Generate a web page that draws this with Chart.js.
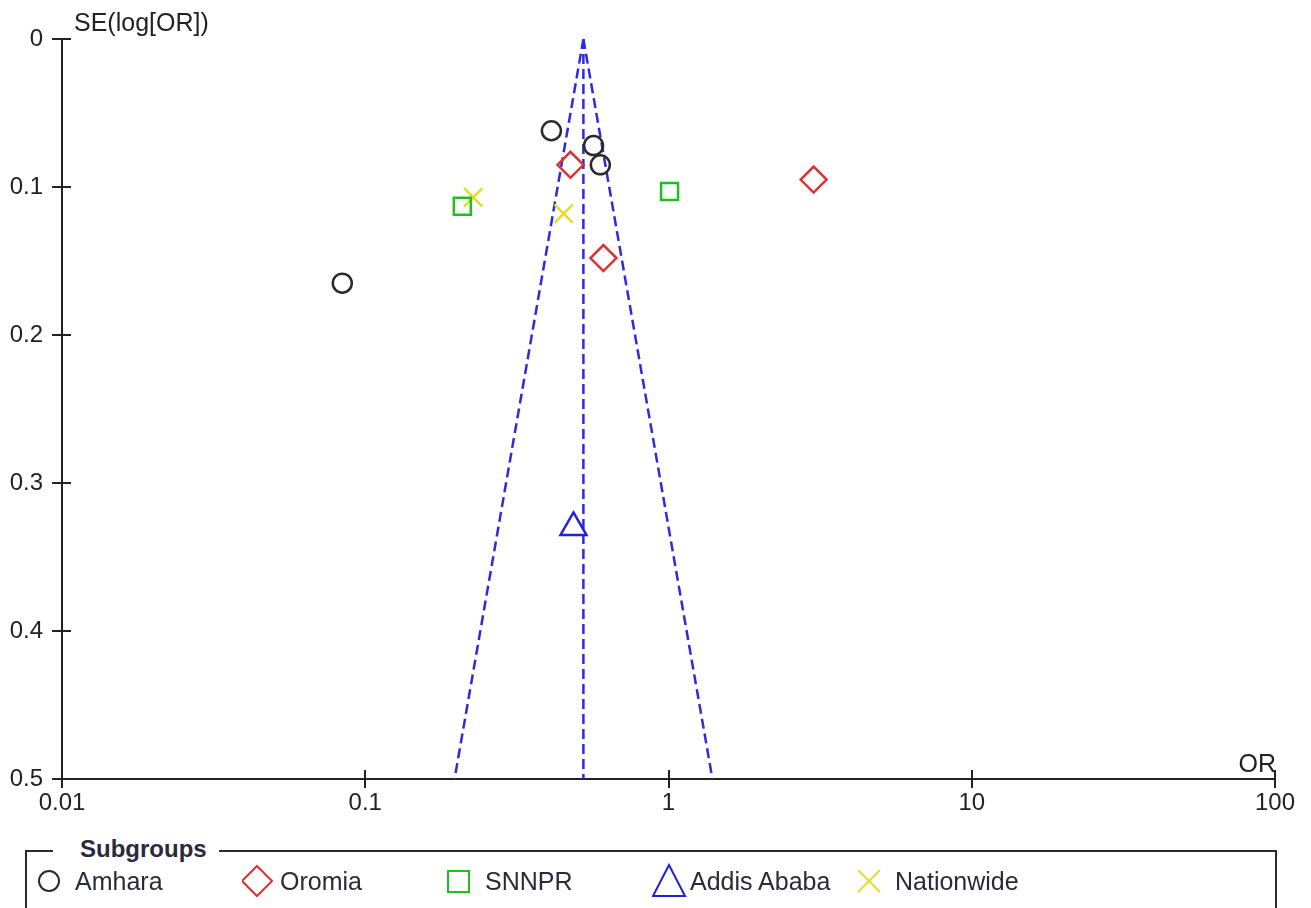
<!DOCTYPE html>
<html>
<head>
<meta charset="utf-8">
<script src="https://cdn.jsdelivr.net/npm/chart.js@4/dist/chart.umd.min.js"></script>
<style>
  html, body { margin: 0; padding: 0; background: #fff; }
  #wrap { position: relative; width: 1311px; height: 908px; overflow: hidden; }
  #funnel { position: absolute; left: 0; top: 0; }
  #legendBox {
    position: absolute; left: 25px; top: 850px; width: 1248px; height: 90px;
    border: 2px solid #2a2a2a; font-family: "Liberation Sans", Arial, sans-serif;
  }
  #legendTitle {
    position: absolute; left: 26px; top: -17px; line-height: 28px;
    background: #fff; padding: 0 12px 0 27px;
    font-weight: bold; font-size: 24px; color: #2a2a3a;
  }
  #legendItems { position: absolute; left: 10px; top: 11px; display: flex; }
  .item { width: 205px; height: 36px; display: flex; align-items: center; font-size: 25px; color: #2a2a3a; }
  .item svg { width: 38px; height: 36px; flex: none; }
</style>
</head>
<body>
<div id="wrap">
  <canvas id="funnel" width="1311" height="908"></canvas>
  <div id="legendBox">
    <span id="legendTitle">Subgroups</span>
    <div id="legendItems"></div>
  </div>
</div>
<script>
// Funnel plot: SE(log[OR]) against OR, log x axis
const xTicks = [0.01, 0.1, 1, 10, 100];
const xTickLabels = ['0.01', '0.1', '1', '10', '100'];
const yTicks = [0, 0.1, 0.2, 0.3, 0.4, 0.5];
const yTickLabels = ['0', '0.1', '0.2', '0.3', '0.4', '0.5'];

// studies per subgroup (OR, SE)
const amharaOR = [0.411, 0.566, 0.596, 0.084];
const amharaSE = [0.062, 0.072, 0.085, 0.165];
const oromiaOR = [0.475, 3.01, 0.61];
const oromiaSE = [0.085, 0.095, 0.148];
const snnprOR = [0.209, 1.008];
const snnprSE = [0.113, 0.103];
const addisOR = [0.486];
const addisSE = [0.33];
const nationOR = [0.227, 0.451];
const nationSE = [0.107, 0.118];

// pooled estimate and 95% limits read at SE = 0 and SE = 0.5
const funnelSE = [0, 0.5];
const funnelCenter = [0.524, 0.524];
const funnelLower = [0.524, 0.197];
const funnelUpper = [0.524, 1.396];

const axisColor = '#222';
const tickFont = { family: 'Liberation Sans', size: 24 };
const funnelBlue = '#2c2cdc';

const pts = (ors, ses) => ors.map((v, i) => ({ x: v, y: ses[i] }));

const subgroups = [
  { label: 'Amhara', or: amharaOR, se: amharaSE, style: 'circle', color: '#2b2b2b', radius: 9.5 },
  { label: 'Oromia', or: oromiaOR, se: oromiaSE, style: 'rectRot', color: '#dc3232', radius: 13 },
  { label: 'SNNPR', or: snnprOR, se: snnprSE, style: 'rect', color: '#1fbf1f', radius: 12 },
  { label: 'Addis Ababa', or: addisOR, se: addisSE, style: 'triangle', color: '#2121d4', radius: 15 },
  { label: 'Nationwide', or: nationOR, se: nationSE, style: 'crossRot', color: '#e2dc2a', radius: 13 }
];

const funnelLine = (label, ors, dash) => ({
  type: 'line',
  label: label,
  data: pts(ors, funnelSE),
  borderColor: funnelBlue,
  borderWidth: 2.5,
  borderDash: dash,
  pointRadius: 0,
  fill: false,
  order: 2
});

const axisExtras = {
  id: 'axisExtras',
  afterDraw(chart) {
    const { ctx, chartArea, scales } = chart;
    ctx.save();
    ctx.strokeStyle = axisColor;
    ctx.lineWidth = 2;
    // inner halves of the ticks (ticks cross the axes)
    scales.x.ticks.forEach(t => {
      const px = Math.round(scales.x.getPixelForValue(t.value));
      ctx.beginPath();
      ctx.moveTo(px, chartArea.bottom - 9);
      ctx.lineTo(px, chartArea.bottom);
      ctx.stroke();
    });
    scales.y.ticks.forEach(t => {
      const py = Math.round(scales.y.getPixelForValue(t.value));
      ctx.beginPath();
      ctx.moveTo(chartArea.left, py);
      ctx.lineTo(chartArea.left + 9, py);
      ctx.stroke();
    });
    // axis titles
    ctx.fillStyle = axisColor;
    ctx.font = '25px "Liberation Sans"';
    ctx.textBaseline = 'alphabetic';
    ctx.textAlign = 'left';
    ctx.fillText('SE(log[OR])', 74, 31);
    ctx.textAlign = 'right';
    ctx.fillText('OR', chartArea.right + 1, chartArea.bottom - 7);
    ctx.restore();
  }
};

const chart = new Chart(document.getElementById('funnel'), {
  type: 'scatter',
  data: {
    datasets: [
      funnelLine('centre', funnelCenter, [10, 5]),
      funnelLine('lower', funnelLower, [10, 5]),
      funnelLine('upper', funnelUpper, [10, 5]),
      ...subgroups.map(g => ({
        label: g.label,
        data: pts(g.or, g.se),
        pointStyle: g.style,
        pointRadius: g.radius,
        pointBorderColor: g.color,
        pointBackgroundColor: 'rgba(0,0,0,0)',
        pointBorderWidth: 2.5,
        order: 1
      }))
    ]
  },
  options: {
    responsive: false,
    animation: false,
    events: [],
    layout: { padding: { top: 39, right: 36, left: 0, bottom: 0 } },
    plugins: { legend: { display: false }, tooltip: { enabled: false } },
    scales: {
      x: {
        type: 'logarithmic',
        min: 0.01,
        max: 100,
        afterFit: s => { s.height = 908 - 779; },
        afterBuildTicks: s => { s.ticks = xTicks.map(v => ({ value: v })); },
        ticks: {
          color: axisColor,
          font: tickFont,
          padding: 1,
          maxRotation: 0,
          autoSkip: false,
          callback: (v) => xTickLabels[xTicks.indexOf(v)]
        },
        grid: { display: true, drawOnChartArea: false, drawTicks: true, tickLength: 9, color: axisColor, lineWidth: 2 },
        border: { display: true, color: axisColor, width: 2 }
      },
      y: {
        type: 'linear',
        reverse: true,
        min: 0,
        max: 0.5,
        afterFit: s => { s.width = 62; },
        afterBuildTicks: s => { s.ticks = yTicks.map(v => ({ value: v })); },
        ticks: {
          color: axisColor,
          font: tickFont,
          padding: 9,
          autoSkip: false,
          callback: (v) => yTickLabels[yTicks.indexOf(v)]
        },
        grid: { display: true, drawOnChartArea: false, drawTicks: true, tickLength: 10, color: axisColor, lineWidth: 2 },
        border: { display: true, color: axisColor, width: 2 }
      }
    }
  },
  plugins: [axisExtras]
});

// HTML legend built from the subgroup datasets
function symbolSvg(style, color) {
  const s = `fill="none" stroke="${color}" stroke-width="2"`;
  let shape = '';
  if (style === 'circle') shape = `<circle cx="12" cy="18" r="10" ${s}/>`;
  if (style === 'rectRot') shape = `<polygon points="0,18 15,3 30,18 15,33" ${s}/>`;
  if (style === 'rect') shape = `<rect x="1" y="8" width="21" height="21" ${s}/>`;
  if (style === 'triangle') shape = `<polygon points="17,2 33,33 1,33" ${s}/>`;
  if (style === 'crossRot') shape = `<path d="M1,7 L23,29 M23,7 L1,29" ${s}/>`;
  return `<svg viewBox="0 0 38 36">${shape}</svg>`;
}
const legendItems = document.getElementById('legendItems');
subgroups.forEach(g => {
  const el = document.createElement('div');
  el.className = 'item';
  el.innerHTML = symbolSvg(g.style, g.color) + '<span>' + g.label + '</span>';
  legendItems.appendChild(el);
});
</script>
</body>
</html>
